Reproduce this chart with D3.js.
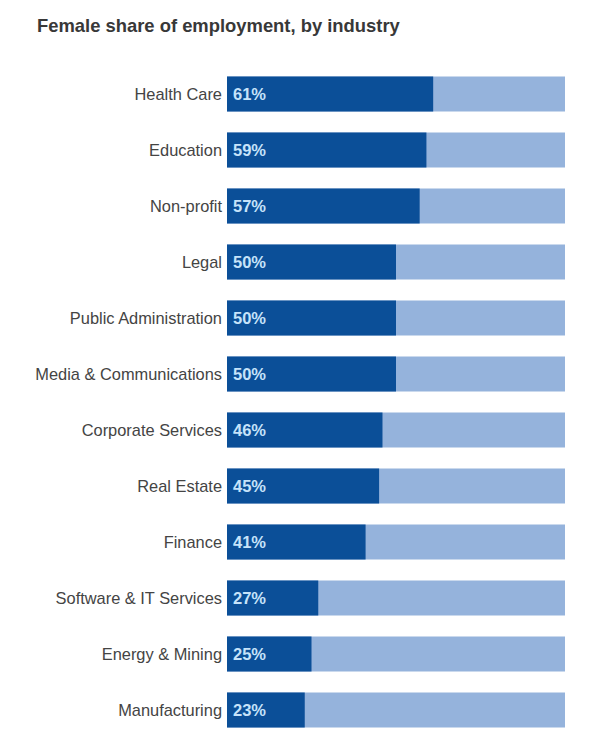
<!DOCTYPE html>
<html><head><meta charset="utf-8">
<script src="https://cdn.jsdelivr.net/npm/d3@7"></script>
<style>body{margin:0;background:#fff;}svg{display:block;}</style>
</head><body>
<script>
const categories = ["Health Care","Education","Non-profit","Legal","Public Administration","Media & Communications","Corporate Services","Real Estate","Finance","Software & IT Services","Energy & Mining","Manufacturing"];
const femaleShare = [61,59,57,50,50,50,46,45,41,27,25,23];
const title = "Female share of employment, by industry";

const W = 592, H = 753;
const svg = d3.select("body").append("svg").attr("width", W).attr("height", H);
const font = "Helvetica, Arial, 'Liberation Sans', sans-serif";

svg.append("text").attr("x", 37).attr("y", 32)
  .attr("font-family", font).attr("font-weight", "bold").attr("font-size", 18.4)
  .attr("fill", "#383838").text(title);

const x = d3.scaleLinear().domain([0, 100]).range([227, 565]);
const y = d3.scaleBand().domain(categories).range([66, 738]).paddingInner(0.375).paddingOuter(0.1875);

const g = svg.append("g");
const rows = g.selectAll("g.row").data(categories).join("g").attr("class","row");

rows.append("rect").attr("x", x(0)).attr("y", d => y(d))
  .attr("width", x(100) - x(0)).attr("height", y.bandwidth()).attr("fill", "#95b3dc");
rows.append("rect").attr("x", x(0)).attr("y", d => y(d))
  .attr("width", (d,i) => x(femaleShare[i]) - x(0)).attr("height", y.bandwidth()).attr("fill", "#0b4f98");
rows.append("text").attr("x", x(0) - 5).attr("y", d => y(d) + y.bandwidth()/2)
  .attr("dy", "0.35em").attr("text-anchor", "end")
  .attr("font-family", font).attr("font-size", 16.4).attr("fill", "#444")
  .text(d => d);
rows.append("text").attr("x", x(0) + 6).attr("y", d => y(d) + y.bandwidth()/2)
  .attr("dy", "0.35em").attr("font-family", font).attr("font-weight", "bold")
  .attr("font-size", 16.5).attr("fill", "#c6e3fa").text((d,i) => femaleShare[i] + "%");
</script>
</body></html>
